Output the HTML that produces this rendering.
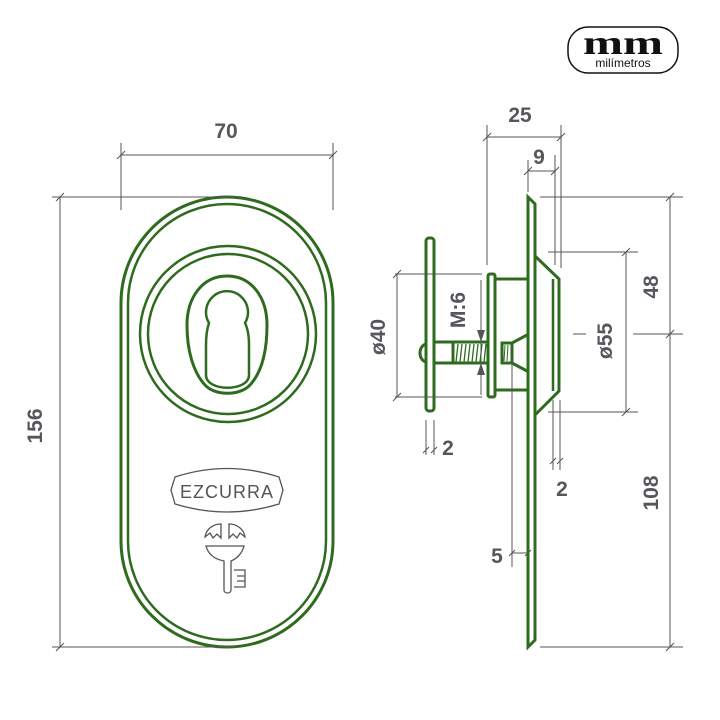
<!DOCTYPE html>
<html><head><meta charset="utf-8"><style>
html,body{margin:0;padding:0;background:#fff;}
svg{display:block;}
.g{fill:none;stroke:#2f6b1e;stroke-width:3;}
.gt{fill:none;stroke:#2f6b1e;stroke-width:2.5;}
.d{fill:none;stroke:#555;stroke-width:1;}
.t{font-family:"Liberation Sans",sans-serif;font-weight:bold;font-size:21px;fill:#56565c;}
.k{fill:none;stroke:#555;stroke-width:1.3;}
</style></head><body>
<svg width="720" height="720" viewBox="0 0 720 720" xmlns="http://www.w3.org/2000/svg">
<!-- logo -->
<rect x="568" y="27" width="110" height="46" rx="20" fill="none" stroke="#111" stroke-width="1.5"/>
<text x="623" y="54" text-anchor="middle" font-family="Liberation Serif,serif" font-weight="bold" font-size="34" fill="#111" textLength="80" lengthAdjust="spacingAndGlyphs">mm</text>
<text x="623" y="67" text-anchor="middle" font-family="Liberation Sans,sans-serif" font-size="12" fill="#111">milímetros</text>

<!-- front plate -->
<rect x="121" y="197" width="212" height="450" rx="106" class="g"/>
<rect x="128" y="204" width="198" height="436" rx="99" class="gt"/>
<circle cx="228" cy="334" r="88" class="gt"/>
<circle cx="228" cy="334" r="80" class="gt"/>
<path class="g" d="M227 276 C252 276 267 298 267 325 C267 350 262 372 250 385 C240 396 215 396 205 385 C193 372 187 350 187 325 C187 298 202 276 227 276 Z"/>
<path class="gt" d="M209 323 A21 21 0 1 1 245 323 C248 329 249 336 249 345 L249 375 C249 392 206 392 206 375 L206 345 C206 336 207 329 209 323 Z"/>
<!-- ezcurra -->
<path class="k" d="M175 477 Q227 460 279 477 L283 490 L279 504 Q227 520 175 504 L171 490 Z"/>
<text x="227" y="498" text-anchor="middle" font-family="Liberation Sans,sans-serif" font-size="18" fill="#555" letter-spacing="1">EZCURRA</text>
<!-- key logo -->
<path class="k" d="M221 538 L221 524 C212 524 206 530 205 537 L210 533 L213 538 L217 534 Z"/>
<path class="k" d="M229 538 L229 524 C238 524 244 530 245 537 L240 533 L237 538 L233 534 Z"/>
<path class="k" d="M206 546 L244 546 C242 554 236 559 231 561 L231 590 C231 594 224 594 224 590 L224 561 C214 559 208 554 206 546 Z"/>
<path class="k" d="M234 570 L245 570 L245 587 L234 587 M237 576 L245 576 M237 581 L245 581"/>

<!-- front dims -->
<path class="d" d="M121 143 L121 210 M333 143 L333 210 M121 155 L333 155 M117 159 L125 151 M329 159 L337 151"/>
<path class="d" d="M52 197 L235 197 M52 647 L235 647 M60 197 L60 647 M56 201 L64 193 M56 651 L64 643"/>
<text x="226" y="138" text-anchor="middle" class="t">70</text>
<text class="t" text-anchor="middle" transform="translate(42,426) rotate(-90)">156</text>

<!-- side view -->
<path class="g" d="M528 197 L535 204 L535 640 L528 647 Z"/>
<path class="g" d="M535 256 L559 279 L559 391 L535 415"/>
<path class="gt" d="M553 279 L553 391"/>
<rect x="488" y="274" width="7" height="123" rx="2" class="g"/>
<path class="g" d="M495 279 L528 279 M495 390 L528 390"/>
<rect x="426" y="238" width="8" height="173" rx="3" class="g"/>
<path class="g" d="M434 342 L488 342 M434 363 L488 363 M426 344 C418 346 418 360 426 362"/>
<path d="M454 344 L452 362 M458 344 L456 362 M462 344 L460 362 M466 344 L464 362 M470 344 L468 362 M474 344 L472 362 M478 344 L476 362 M482 344 L480 362 M486 344 L484 362" stroke="#2f6b1e" stroke-width="1.3"/>
<path class="g" d="M453 343 L453 362"/>
<rect x="502" y="343" width="10" height="20" class="g"/>
<path class="g" d="M512 343 L527 335 M512 363 L527 371"/>
<path d="M505 345 L504 361 M508 345 L507 361" stroke="#2f6b1e" stroke-width="1"/>

<!-- side dims -->
<path class="d" d="M395 274 L482 274 M395 397 L482 397 M397 274 L397 397 M393 278 L401 270 M393 401 L401 393"/>
<text class="t" text-anchor="middle" transform="translate(385,337) rotate(-90)">ø40</text>
<path class="d" d="M481 280 L481 395"/>
<path d="M481 342 L477 330 L485 330 Z M481 363 L477 375 L485 375 Z" fill="#555"/>
<text class="t" text-anchor="middle" transform="translate(465,310) rotate(-90)">M:6</text>
<path class="d" d="M426 420 L426 455 M434 420 L434 455 M423 453 L429 447 M431 453 L437 447"/>
<text x="448" y="455" text-anchor="middle" class="t">2</text>
<path class="d" d="M487 125 L487 265 M561 125 L561 268 M487 137 L561 137 M483 141 L491 133 M557 141 L565 133"/>
<text x="520" y="122" text-anchor="middle" class="t">25</text>
<path class="d" d="M528 160 L528 192 M555 155 L555 265 M528 171 L555 171 M524 175 L532 167 M551 175 L559 167"/>
<text x="539" y="164" text-anchor="middle" class="t">9</text>
<path class="d" d="M540 197 L683 197 M633 334 L683 334 M540 647 L683 647 M670 197 L670 647 M666 201 L674 193 M666 338 L674 330 M666 651 L674 643"/>
<text class="t" text-anchor="middle" transform="translate(658,287) rotate(-90)">48</text>
<text class="t" text-anchor="middle" transform="translate(658,493) rotate(-90)">108</text>
<path class="d" d="M548 252 L638 252 M548 412 L638 412 M626 252 L626 412 M622 256 L630 248 M622 416 L630 408 M573 334 L586 334"/>
<text class="t" text-anchor="middle" transform="translate(612,341) rotate(-90)">ø55</text>
<path class="d" d="M553 400 L553 470 M560 400 L560 470 M550 464 L556 458 M557 464 L563 458"/>
<text x="562" y="496" text-anchor="middle" class="t">2</text>
<path class="d" d="M512 360 L512 567 M512 553 L528 553 M509 556 L515 550 M525 556 L531 550"/>
<text x="497" y="563" text-anchor="middle" class="t">5</text>
</svg>
</body></html>
